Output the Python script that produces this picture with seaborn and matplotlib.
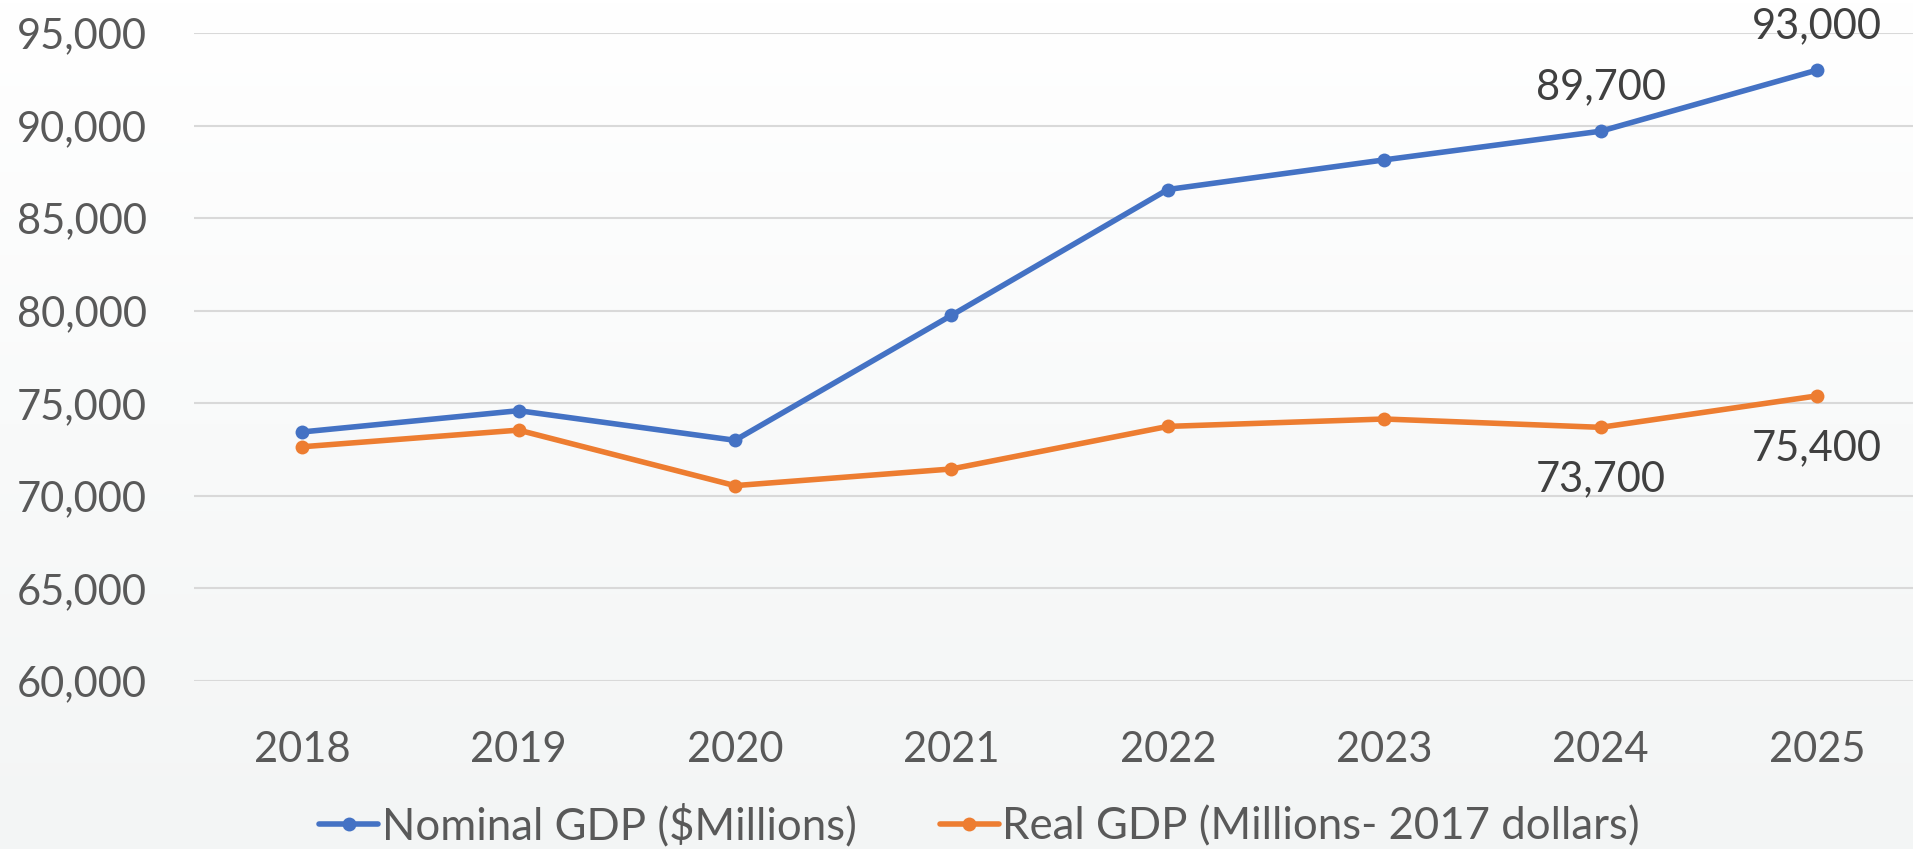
import numpy as np
import pandas as pd
import matplotlib.pyplot as plt
import seaborn as sns
from matplotlib.ticker import FuncFormatter

# chart data
years = [2018, 2019, 2020, 2021, 2022, 2023, 2024, 2025]
nominal_gdp = [73450, 74600, 73000, 79750, 86550, 88150, 89700, 93000]
real_gdp = [72650, 73550, 70550, 71450, 73750, 74150, 73700, 75400]
series_names = ["Nominal GDP ($Millions)", "Real GDP (Millions- 2017 dollars)"]
labelled = {series_names[0]: [2024, 2025], series_names[1]: [2024, 2025]}

data = pd.DataFrame({"Year": years * 2,
                     "GDP": nominal_gdp + real_gdp,
                     "Series": [series_names[0]] * len(years) + [series_names[1]] * len(years)})

sns.set_theme(style="white")
plt.rcParams['font.family'] = ['Lato', 'DejaVu Sans']
colors = {series_names[0]: "#4472C4", series_names[1]: "#ED7D31"}

fig = plt.figure(figsize=(19.13, 8.49), dpi=100)

# subtle vertical gradient background
bg = fig.add_axes([0, 0, 1, 1], zorder=-10)
grad = np.linspace(0, 1, 256).reshape(-1, 1)
top = np.array([1.0, 1.0, 1.0])
bottom = np.array([0xf3, 0xf5, 0xf5]) / 255
img = top * (1 - grad[..., None]) + bottom * grad[..., None]
bg.imshow(img, aspect="auto", extent=[0, 1, 0, 1])
bg.axis("off")

ax = fig.add_axes([0.1014, 0.198, 0.905, 0.763])
ax.patch.set_alpha(0)

sns.lineplot(data=data, x="Year", y="GDP", hue="Series", palette=colors,
             marker="o", markersize=10, markeredgewidth=0, linewidth=4, ax=ax,
             legend=True)

ax.set_xlim(2017.5, 2025.5)
ax.set_ylim(60000, 95000)
ax.set_yticks(np.arange(60000, 95001, 5000))
ax.set_xticks(years)
ax.yaxis.set_major_formatter(FuncFormatter(lambda v, p: f"{int(v):,}"))
ax.grid(axis="y", color="#d9d9d9", linewidth=1.5)
ax.set_axisbelow(True)
for s in ax.spines.values():
    s.set_visible(False)
ax.set_xlabel("")
ax.set_ylabel("")
ax.tick_params(axis="y", labelsize=30, labelcolor="#595959", pad=34, length=0)
ax.tick_params(axis="x", labelsize=30, labelcolor="#595959", pad=36, length=0)

# data labels
for name, vals in [(series_names[0], nominal_gdp), (series_names[1], real_gdp)]:
    for yr in labelled[name]:
        v = vals[years.index(yr)]
        off = 44 if name == series_names[0] else -52
        ax.annotate(f"{v:,}", (yr, v), xytext=(0, off), textcoords="offset pixels",
                    ha="center", va="center", fontsize=30, color="#404040")

handles, labels = ax.get_legend_handles_labels()
ax.get_legend().remove()
fig.legend(handles, labels, loc="center", bbox_to_anchor=(0.512, 0.028), ncol=2,
           frameon=False, fontsize=31.5, labelcolor="#595959", handlelength=1.35,
           handletextpad=0.08, columnspacing=1.9)

fig.savefig("out.png", dpi=100)
